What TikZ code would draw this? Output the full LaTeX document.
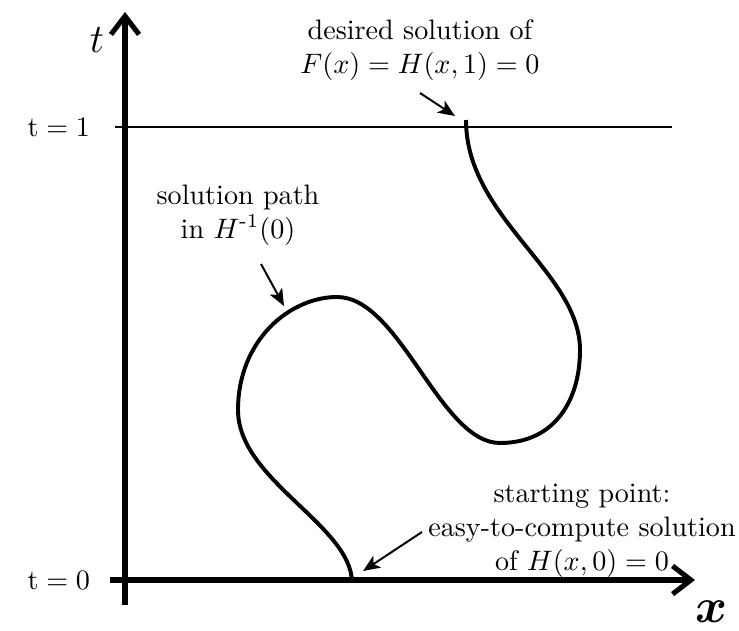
\documentclass[tikz,border=0pt]{standalone}
\usepackage{amsmath}
\usepackage{tikz}
\usetikzlibrary{arrows.meta, positioning}
\tikzset{
  axis/.style={line width=1.8pt, -{Straight Barb[length=6.5pt, width=10pt]}},
  level/.style={line width=0.7pt},
  pathline/.style={line width=1.4pt},
  note/.style={font=\normalsize, align=center},
  pointer/.style={line width=0.7pt, -{Stealth[length=6pt, width=5pt, inset=1.5pt]}},
}

\begin{document}
\begin{tikzpicture}[x=0.0125cm, y=-0.0125cm]
  \useasboundingbox (0,0) rectangle (739,631);
  % Axes
  \coordinate (tbot) at (125,605);
  \coordinate (ttop) at (125,12);
  \coordinate (xleft) at (110,580);
  \coordinate (xright) at (695,580);
  \draw[axis] (tbot) -- (ttop);
  \draw[axis] (xleft) -- (xright);
  \node[font=\Large] (tlabel) at (97,40) {$t$};
  \node[font=\LARGE] (xlabel) at (712,612) {$\boldsymbol{x}$};
  % Levels
  \coordinate (oneleft) at (115,127);
  \coordinate (oneright) at (672,127);
  \draw[level] (oneleft) -- (oneright);
  \node[anchor=east] (tone) at (100,127) {$\mathrm{t} = 1$};
  \node[anchor=east] (tzero) at (100,580) {$\mathrm{t} = 0$};
  % Solution path
  \coordinate (pathbot) at (352,582);
  \coordinate (pathleft) at (238,410);
  \coordinate (pathhill) at (337,297);
  \coordinate (pathvalley) at (500,443);
  \coordinate (pathright) at (580,350);
  \coordinate (pathtop) at (466,120);
  \draw[pathline] (pathbot)
    .. controls (351,525) and (238,480) .. (pathleft)
    .. controls (238,340) and (290,297) .. (pathhill)
    .. controls (400,297) and (440,443) .. (pathvalley)
    .. controls (555,443) and (580,400) .. (pathright)
    .. controls (580,272) and (466,218) .. (pathtop);
  \coordinate (pathend) at (455,116);
  \coordinate (pathmid) at (284,306);
  \coordinate (pathstart) at (363,571);
  % Notes
  \node[note] (desired) at (420,50) {desired solution of\\$F(x) = H(x,1) = 0$};
  \node[note] (path) at (238,215) {solution path\\in $H^{\textrm{-}1}(0)$};
  \node[note] (start) at (582,531) {starting point:\\easy-to-compute solution\\of $H(x,0) = 0$};
  \coordinate (desiredtail) at (420,93);
  \coordinate (pathtail) at (261,264);
  \coordinate (starttail) at (422,532);
  \draw[pointer] (desiredtail) -- (pathend);
  \draw[pointer] (pathtail) -- (pathmid);
  \draw[pointer] (starttail) -- (pathstart);
\end{tikzpicture}
\end{document}
